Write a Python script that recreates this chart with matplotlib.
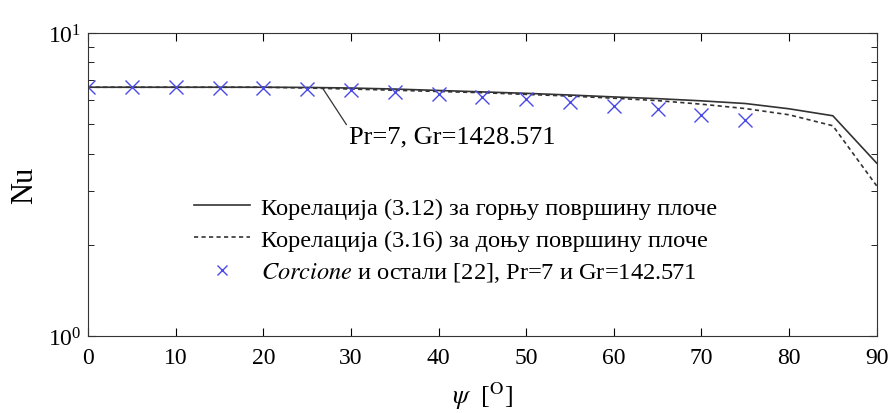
import numpy as np
import matplotlib
matplotlib.use("Agg")
import matplotlib.pyplot as plt
from matplotlib.ticker import LogLocator, NullFormatter, MultipleLocator

plt.rcParams["font.family"] = ["Liberation Serif", "DejaVu Serif"]
plt.rcParams["mathtext.fontset"] = "stix"

# correlations (3.12) top surface, (3.16) bottom surface
psi_line = [0, 5, 10, 15, 20, 25, 30, 35, 40, 45, 50, 55, 60, 65, 70, 75, 80, 85, 90]
nu_top = [6.62, 6.62, 6.62, 6.62, 6.62, 6.61, 6.58, 6.53, 6.46, 6.39, 6.32, 6.24,
          6.15, 6.07, 5.97, 5.85, 5.62, 5.33, 3.72]
nu_bottom = [6.62, 6.62, 6.62, 6.62, 6.62, 6.58, 6.53, 6.47, 6.41, 6.35, 6.27, 6.19,
             6.09, 5.98, 5.82, 5.63, 5.37, 4.94, 3.13]

# Corcione et al. [22]
psi_pts = [0, 5, 10, 15, 20, 25, 30, 35, 40, 45, 50, 55, 60, 65, 70, 75]
nu_pts = [6.62, 6.62, 6.62, 6.57, 6.57, 6.53, 6.49, 6.37, 6.29, 6.15, 6.05, 5.93,
          5.74, 5.61, 5.37, 5.16]

labels = ["Корелација (3.12) за горњу површину плоче",
          "Корелација (3.16) за доњу површину плоче",
          r"$\mathit{Corcione}$ и остали [22], Pr=7 и Gr=142.571"]

fig = plt.figure(figsize=(8.9, 4.14), dpi=100)
ax = fig.add_axes([0.099, 0.186, 0.886, 0.732])

ax.plot(psi_line, nu_top, color="#333333", lw=1.2, label=labels[0])
ax.plot(psi_line, nu_bottom, color="#333333", lw=1.2, ls=(0, (2.5, 2.0)), label=labels[1])
ax.plot(psi_pts, nu_pts, ls="none", marker="x", ms=10, mew=1.0,
        color="#4a4ae6", label=labels[2])

ax.set_yscale("log")
ax.set_xlim(0, 90)
ax.set_ylim(1, 10)
ax.xaxis.set_major_locator(MultipleLocator(10))
ax.yaxis.set_major_locator(LogLocator(base=10))
ax.yaxis.set_minor_locator(LogLocator(base=10, subs=np.arange(2, 10)))
ax.yaxis.set_minor_formatter(NullFormatter())
ax.tick_params(which="both", direction="in", top=True, right=True, labelsize=17)
ax.tick_params(axis="x", pad=8)
ax.tick_params(axis="y", pad=5)
ax.tick_params(which="major", length=6)
ax.tick_params(which="minor", length=4)
for s in ax.spines.values():
    s.set_color("#333333")

ax.set_ylabel("Nu", fontsize=22, labelpad=6)
ax.set_xlabel(r"$\psi$  [$^{\mathrm{O}}$]", fontsize=19, labelpad=8)

ax.annotate("Pr=7, Gr=1428.571", xy=(26.8, 6.55), xytext=(29.8, 4.55),
            fontsize=19, va="center", ha="left",
            arrowprops=dict(arrowstyle="-", color="#333333", lw=0.9,
                            shrinkA=0, shrinkB=0, relpos=(0, 0.85)))

leg = ax.legend(loc="upper left", bbox_to_anchor=(0.134, 0.46), frameon=False,
                fontsize=17.6, handlelength=2.3, labelspacing=0.4, handletextpad=0.45,
                markerscale=0.7, borderaxespad=0, borderpad=0)

fig.savefig("out.png", dpi=100)
